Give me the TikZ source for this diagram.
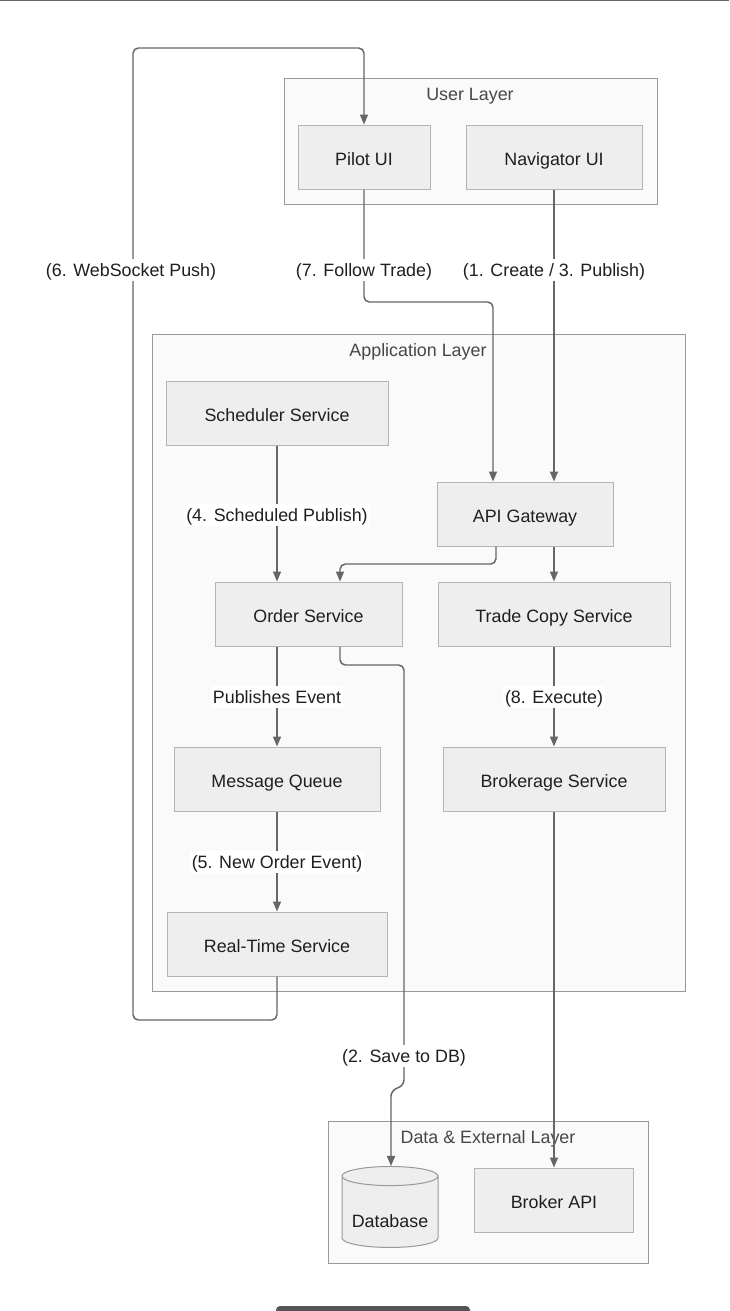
\documentclass[tikz,border=0pt]{standalone}
\usepackage{fontspec}
\setmainfont{Liberation Sans}
\usetikzlibrary{calc,arrows.meta,shapes.geometric}

\definecolor{svcfill}{HTML}{EEEEEE}
\definecolor{svcline}{HTML}{B4B4B4}
\definecolor{layerfill}{HTML}{FAFAFA}
\definecolor{layerline}{HTML}{999999}
\definecolor{flowline}{HTML}{666666}
\definecolor{barcol}{HTML}{555555}

\begin{document}
\begin{tikzpicture}[x=0.75pt,y=-0.75pt,
  every node/.style={font=\fontsize{13.4}{16}\selectfont, text=black!88},
  layer/.style={draw=layerline, fill=layerfill, line width=0.75pt},
  layertitle/.style={text=black!72},
  svc/.style={draw=svcline, fill=svcfill, line width=0.75pt, minimum width=0.75pt*#1, minimum height=48pt, inner sep=0pt, text height=12.4pt, text depth=0pt},
  dbshape/.style={cylinder, shape border rotate=90, aspect=0.25, draw=layerline, fill=svcfill, line width=0.75pt, minimum width=72pt, minimum height=60.75pt, inner sep=0pt, text height=23pt, text depth=0pt},
  lbl/.style={fill=white, inner sep=1.5pt, text height=11.8pt, text depth=2.2pt},
  flow/.style={draw=flowline, line width=1.1pt, rounded corners=4pt, -{Triangle[length=7.5pt,width=6pt]}},
]
\useasboundingbox (0,0) rectangle (729,1311);
\fill[white] (0,0) rectangle (729,1311);
\draw[flowline, line width=0.75pt] (0,0.5) -- (729,0.5);
\fill[barcol, rounded corners=3pt] (276,1306) rectangle (470,1318);

% layers
\draw[layer] (284,78) rectangle (657,204);
\node[layertitle] (userT) at (470,96) {User Layer};
\draw[layer] (152,334) rectangle (685,991);
\node[layertitle] (appT) at (418,352) {Application Layer};
\draw[layer] (328,1121) rectangle (648,1263);
\node[layertitle] (dataT) at (488,1139) {Data \& External Layer};

% services
\node[svc=132] (pilot) at (364,157) {Pilot UI};
\node[svc=176] (nav) at (554,157) {Navigator UI};
\node[svc=222] (sched) at (277,413) {Scheduler Service};
\node[svc=176] (gw) at (525,514) {API Gateway};
\node[svc=187] (order) at (308.5,614) {Order Service};
\node[svc=232] (copy) at (554,614) {Trade Copy Service};
\node[svc=206] (mq) at (277,779) {Message Queue};
\node[svc=222] (broker) at (554,779) {Brokerage Service};
\node[svc=220] (rt) at (277,944) {Real-Time Service};
\node[svc=159] (bapi) at (554,1200) {Broker API};
\node[dbshape] (db) at (390,1212) {Database};

% bend points
\coordinate (gwIn) at ($(gw.north)+(-32,0)$);
\coordinate (ftA) at (364,302);
\coordinate (ftB) at (493,302);
\coordinate (wsA) at (277,1020);
\coordinate (wsB) at (133,1020);
\coordinate (wsC) at (133,48);
\coordinate (wsD) at (364,48);
\coordinate (goS) at ($(gw.south)+(-29,0)$);
\coordinate (goA) at (496,564);
\coordinate (goB) at (340,564);
\coordinate (orderIn) at ($(order.north)+(31.5,0)$);
\coordinate (odS) at ($(order.south)+(31.5,0)$);
\coordinate (odA) at (340,665);
\coordinate (odB) at (404,665);
\coordinate (odC) at (404,1085);
\coordinate (odD) at (391,1091);

% flows
\draw[flow] (nav.south) -- (nav.south |- gw.north);
\draw[flow] (pilot.south) -- (ftA) -- (ftB) -- (gwIn);
\draw[flow] (rt.south) -- (wsA) -- (wsB) -- (wsC) -- (wsD) -- (pilot.north);
\draw[flow] (sched.south) -- (sched.south |- order.north);
\draw[flow] (goS) -- (goA) -- (goB) -- (orderIn);
\draw[flow] (copy.north |- gw.south) -- (copy.north);
\draw[flow] (odS) -- (odA) -- (odB) -- (odC) -- (odD) -- (odD |- db.north);
\draw[flow] (order.south -| mq.north) -- (mq.north);
\draw[flow] (mq.south) -- (rt.north);
\draw[flow] (copy.south) -- (broker.north);
\draw[flow] (broker.south) -- (bapi.north);

% labels
\node[lbl] (l1) at (554,270) {(1. Create / 3. Publish)};
\node[lbl] (l7) at (364,270) {(7. Follow Trade)};
\node[lbl] (l6) at (131,270) {(6. WebSocket Push)};
\node[lbl] (l4) at (277,515) {(4. Scheduled Publish)};
\node[lbl] (lp) at (277,697) {Publishes Event};
\node[lbl] (l8) at (554,697) {(8. Execute)};
\node[lbl] (l5) at (277,862) {(5. New Order Event)};
\node[lbl] (l2) at (404,1056) {(2. Save to DB)};

\end{tikzpicture}
\end{document}
